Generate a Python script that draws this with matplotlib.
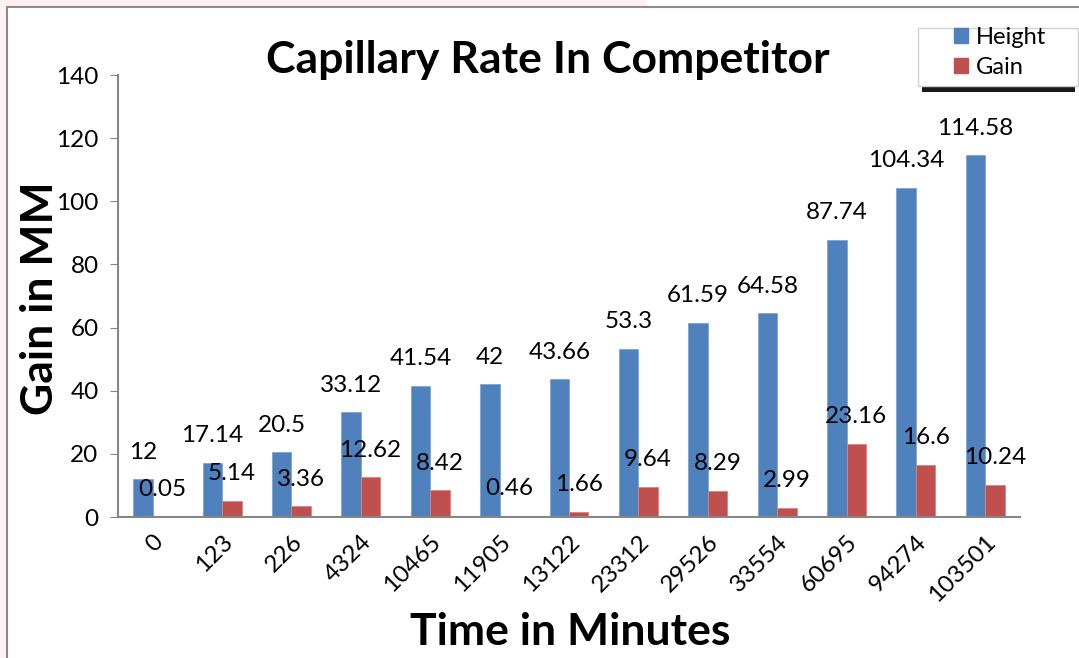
import numpy as np
import matplotlib.pyplot as plt
from matplotlib.patches import Rectangle
from matplotlib.lines import Line2D

plt.rcParams['font.family'] = ['Lato', 'DejaVu Sans']

times = ['0', '123', '226', '4324', '10465', '11905', '13122', '23312',
         '29526', '33554', '60695', '94274', '103501']
height = [12, 17.14, 20.5, 33.12, 41.54, 42, 43.66, 53.3, 61.59, 64.58,
          87.74, 104.34, 114.58]
gain = [0, 5.14, 3.36, 12.62, 8.42, 0.46, 1.66, 9.64, 8.29, 2.99,
        23.16, 16.6, 10.24]
gain_labels = ['0.05', '5.14', '3.36', '12.62', '8.42', '0.46', '1.66',
               '9.64', '8.29', '2.99', '23.16', '16.6', '10.24']
height_labels = ['12', '17.14', '20.5', '33.12', '41.54', '42', '43.66',
                 '53.3', '61.59', '64.58', '87.74', '104.34', '114.58']

W, H = 1079, 658
fig = plt.figure(figsize=(W / 100, H / 100), dpi=100)
ax = fig.add_axes([118 / W, 1 - 517 / H, (1020 - 118) / W, (517 - 75) / H])

x = np.arange(len(times))
w = 0.28
blue = '#4f81bd'
red = '#c0504d'
ax.bar(x - w / 2, height, w, color=blue, edgecolor='#7ea3d3', linewidth=0.6)
ax.bar(x + w / 2, gain, w, color=red, edgecolor='#d98583', linewidth=0.6)

for i in range(len(times)):
    ax.annotate(height_labels[i], (x[i] - w / 2, height[i]), xytext=(0, 19.5),
                textcoords='offset points', ha='center', va='center', fontsize=17.5)
    ax.annotate(gain_labels[i], (x[i] + w / 2, gain[i]), xytext=(0, 19.5),
                textcoords='offset points', ha='center', va='center', fontsize=17.5)

ax.set_xlim(-0.5, len(times) - 0.5)
ax.set_ylim(0, 140)
ax.set_yticks(range(0, 141, 20))
ax.set_xticks(x)
ax.set_xticklabels(times, rotation=45, ha='right', va='top',
                   rotation_mode='anchor', fontsize=17.5)
ax.tick_params(axis='y', labelsize=17.5, length=6, color='#868686', pad=8)
ax.tick_params(axis='x', length=0, pad=10)
for s in ['top', 'right']:
    ax.spines[s].set_visible(False)
for s in ['left', 'bottom']:
    ax.spines[s].set_color('#868686')
    ax.spines[s].set_linewidth(1.5)

fig.text(548 / W, 1 - 60 / H, 'Capillary Rate In Competitor', ha='center',
         va='center', fontsize=32, fontweight='bold')
fig.text(40 / W, 1 - 298 / H, 'Gain in MM', ha='center', va='center',
         rotation=90, fontsize=32, fontweight='bold')
fig.text(570 / W, 1 - 632 / H, 'Time in Minutes', ha='center', va='center',
         fontsize=32, fontweight='bold')

# outer chart border (left and top)
fig.add_artist(Line2D([7 / W, 7 / W], [0, 1 - 7 / H], color='#8c8c8c', lw=1.5))
fig.add_artist(Line2D([7 / W, 1], [1 - 7 / H, 1 - 7 / H], color='#8c8c8c', lw=1.5))
fig.add_artist(Rectangle((0, 1 - 6 / H), 0.6, 6 / H, color='#fdf0f2', lw=0))
fig.add_artist(Rectangle((0, 0), 6 / W, 1, color='#fdf3f4', lw=0))

# legend box with dark shadow underneath
fig.add_artist(Rectangle((922 / W, 1 - 92 / H), 153 / W, 8 / H, color='#1a1a1a', lw=0))
fig.add_artist(Rectangle((918 / W, 1 - 86 / H), 160 / W, 58 / H,
                         facecolor='white', edgecolor='#d0d0d0', lw=1))
handles = [Rectangle((0, 0), 1, 1, color=blue), Rectangle((0, 0), 1, 1, color=red)]
fig.legend(handles, ['Height', 'Gain'], loc='upper left',
           bbox_to_anchor=(937 / W, 1 - 10 / H), frameon=False, fontsize=17,
           handlelength=0.6, handleheight=0.6, handletextpad=0.35,
           labelspacing=0.4, borderpad=0.2)

fig.savefig('out.png', dpi=100)
